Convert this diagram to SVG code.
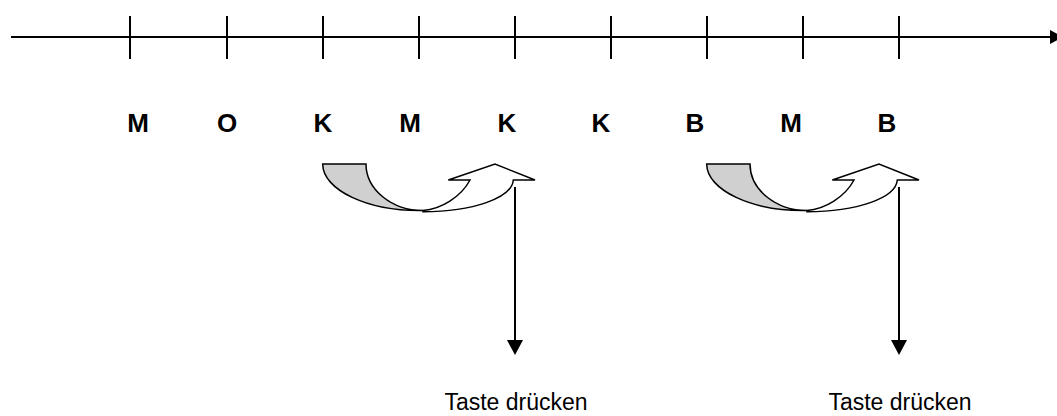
<svg xmlns="http://www.w3.org/2000/svg" width="1057" height="416" viewBox="0 0 1057 416">
<style>
.lbl{font-family:"Liberation Sans",Arial,sans-serif;font-weight:bold;font-size:26px;text-anchor:middle;fill:#000}
.txt{font-family:"Liberation Sans",Arial,sans-serif;font-size:23px;text-anchor:middle;fill:#000}
.ax{stroke:#000;stroke-width:2;fill:none}
.band{stroke:#000;stroke-width:1.5;stroke-linejoin:miter}
</style>
<defs>
<g id="curved">
<path class="band" fill="#d0d0d0" d="M322.7,164 H366 C366,189.4 391.5,210.5 423,210.5 C367.8,211.5 322.7,190 322.7,164 Z"/>
<path class="band" fill="#fff" d="M423,210.5 C441,209 461,197 470,180 L448.3,180 L495,164 L535,180 L513.3,180 C512,198 472.7,211.7 423,211.7 Z"/>
</g>
</defs>
<g id="connectors">
<line class="ax" x1="11" y1="37" x2="1051" y2="37"/>
<polygon points="1050,30 1063,37 1050,44" fill="#000"/>
<line class="ax" x1="130" y1="16" x2="130" y2="59"/>
<line class="ax" x1="227" y1="16" x2="227" y2="59"/>
<line class="ax" x1="323" y1="16" x2="323" y2="59"/>
<line class="ax" x1="419" y1="16" x2="419" y2="59"/>
<line class="ax" x1="515" y1="16" x2="515" y2="59"/>
<line class="ax" x1="611" y1="16" x2="611" y2="59"/>
<line class="ax" x1="707" y1="16" x2="707" y2="59"/>
<line class="ax" x1="803" y1="16" x2="803" y2="59"/>
<line class="ax" x1="899" y1="16" x2="899" y2="59"/>
<line class="ax" x1="515" y1="187" x2="515" y2="342"/>
<polygon points="507,340 523,340 515,355" fill="#000"/>
<line class="ax" x1="899" y1="187" x2="899" y2="342"/>
<polygon points="891,340 907,340 899,355" fill="#000"/>
</g>
<g id="arrow1"><use href="#curved"/></g>
<g id="arrow2"><use href="#curved" transform="translate(384,0)"/></g>
<g id="labels">
<text class="lbl" x="138" y="132">M</text>
<text class="lbl" x="227" y="132">O</text>
<text class="lbl" x="323" y="132">K</text>
<text class="lbl" x="410" y="132">M</text>
<text class="lbl" x="507" y="132">K</text>
<text class="lbl" x="601" y="132">K</text>
<text class="lbl" x="695" y="132">B</text>
<text class="lbl" x="791" y="132">M</text>
<text class="lbl" x="887" y="132">B</text>
</g>
<g id="note1"><text class="txt" x="516" y="410">Taste drücken</text></g>
<g id="note2"><text class="txt" x="900" y="410">Taste drücken</text></g>
</svg>
